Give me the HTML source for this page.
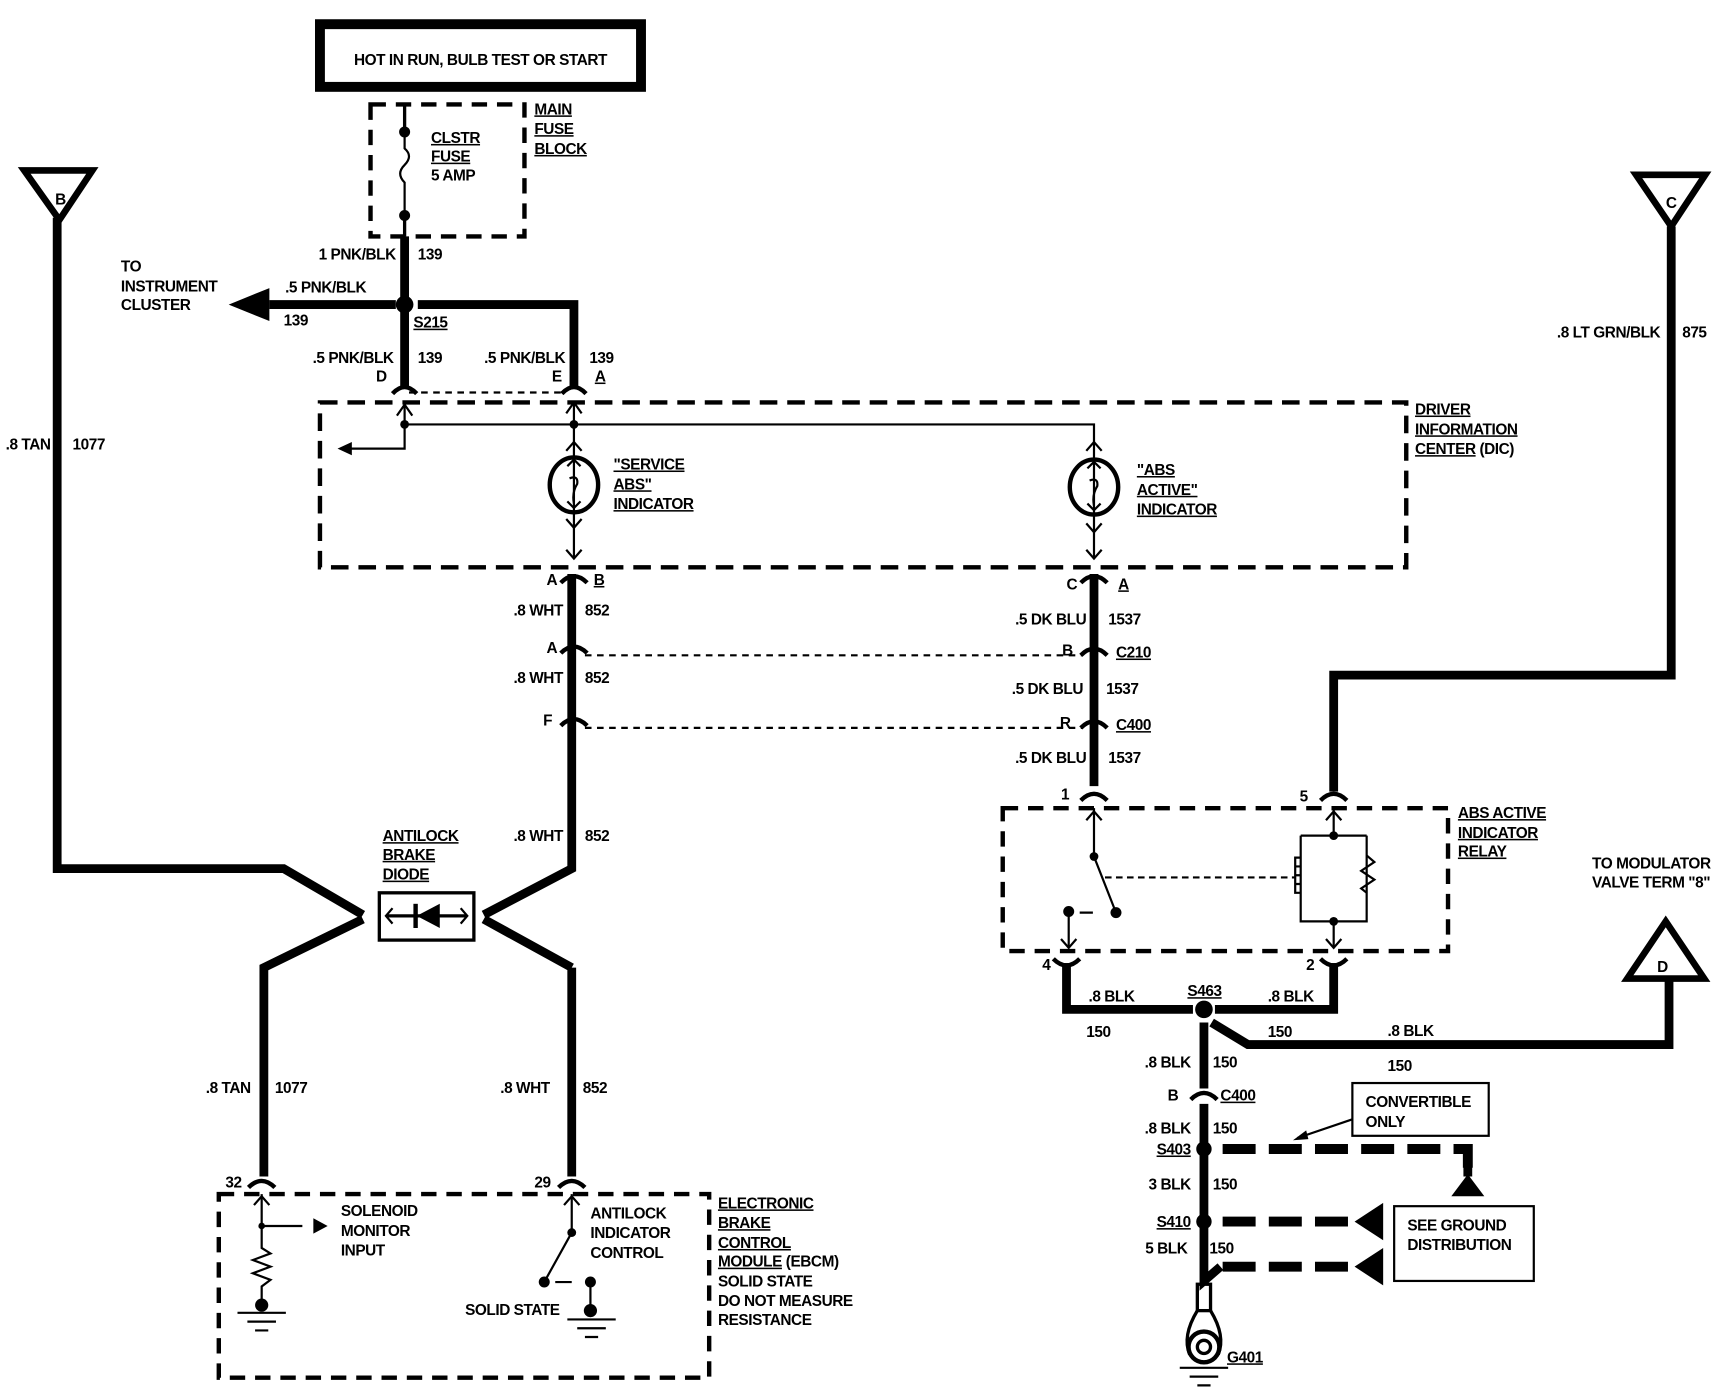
<!DOCTYPE html>
<html><head><meta charset="utf-8"><style>
html,body{margin:0;padding:0;background:#fff;}
svg{display:block}
text{font-family:"Liberation Sans",sans-serif;font-weight:bold;font-size:14px;fill:#000;letter-spacing:-0.4px}
.u{text-decoration:underline}
</style></head><body>
<svg width="1724" height="1392" viewBox="0 0 1568 1266" preserveAspectRatio="none" xmlns="http://www.w3.org/2000/svg">
<g fill="none" stroke="#000" stroke-linecap="butt">
<rect x="291" y="22" width="292" height="57" stroke-width="9"/>
<rect x="337" y="95" width="140" height="120" stroke-width="4" stroke-dasharray="14,9"/>
<path d="M368 95V120 M368 196V215" stroke-width="3"/>
<path d="M368 120V135 Q376 142 368 150 Q360 158 368 166 V196" stroke-width="2"/>
<path d="M368 215V352 M245 277H360 M380 277H522V352" stroke-width="8"/>
<path d="M372 357H515" stroke-width="2" stroke-dasharray="6,5"/>
<path d="M357 358Q368 346 379 358 M511 358Q522 346 533 358" stroke-width="4"/>
<rect x="291" y="366" width="988" height="150" stroke-width="4" stroke-dasharray="16,9"/>
<path d="M368 366V408H312 M368 386H995V404 M522 366V508 M995 404V508" stroke-width="2"/>
<path d="M361 378L368 368L375 378 M515 376L522 366L529 376 M515 410L522 402L529 410 M515 472L522 480L529 472 M515 500L522 508L529 500 M988 410L995 402L1002 410 M988 476L995 484L1002 476 M988 500L995 508L1002 500" stroke-width="2"/>
<ellipse cx="522" cy="441" rx="22" ry="25" stroke-width="4"/>
<ellipse cx="995" cy="443" rx="22" ry="25" stroke-width="4"/>
<path d="M518 435Q526 432 525 440Q520 448 522 458 M991 437Q999 434 998 442Q993 450 995 460" stroke-width="2"/>
<path d="M516 424L522 418L528 424 M516 456L522 462L528 456 M989 426L995 420L1001 426 M989 458L995 464L1001 458" stroke-width="2"/>
<path d="M520 522V790L440 832 M520 880L440 836 M520 880V1070" stroke-width="8"/>
<path d="M510 530Q522 518 534 530" stroke-width="4"/>
<path d="M510 594Q522 582 534 594 M510 660Q522 648 534 660" stroke-width="4"/>
<path d="M532 596H985 M532 662H985" stroke-width="2" stroke-dasharray="6,5"/>
<path d="M52 198V790H258L330 832 M330 836L240 880V1070" stroke-width="8"/>
<path d="M22 155H84L54 200Z" stroke-width="6"/>
<rect x="345" y="812" width="86" height="43" stroke-width="3"/>
<path d="M352 833H424" stroke-width="3"/>
<path d="M357 826L351 833L357 840 M419 826L425 833L419 840" stroke-width="2"/>
<rect x="199" y="1086" width="446" height="167" stroke-width="4" stroke-dasharray="14,9"/>
<path d="M226 1080Q238 1068 250 1080 M508 1080Q520 1068 532 1080" stroke-width="4"/>
<path d="M238 1086V1135 L246 1140 L230 1146 L246 1152 L230 1158 L246 1164 L238 1170 V1185 M238 1115H275 M520 1086V1121L495 1166 M537 1166V1190 M505 1166H520" stroke-width="2"/>
<path d="M231 1096L238 1088L245 1096 M513 1096L520 1088L527 1096" stroke-width="2"/>
<path d="M216 1194H260 M225 1202H251 M232 1210H244 M516 1200H560 M525 1208H551 M532 1216H544" stroke-width="2"/>
<path d="M995 522V715" stroke-width="8"/>
<path d="M983 530Q995 518 1007 530 M983 596Q995 584 1007 596 M983 662Q995 650 1007 662 M983 728Q995 716 1007 728" stroke-width="4"/>
<path d="M1488 159H1551L1520 206Z" stroke-width="6"/>
<path d="M1520 206V614H1213V720" stroke-width="8"/>
<path d="M1201 728Q1213 716 1225 728" stroke-width="4"/>
<rect x="912" y="735" width="405" height="130" stroke-width="4" stroke-dasharray="14,9"/>
<path d="M995 735V779L1015 830 M972 829V862 M1213 735V760 M1183 760H1243 M1183 760V838H1243V760 M1213 838V862 M982 830H994" stroke-width="2"/>
<path d="M1005 798H1178" stroke-width="2" stroke-dasharray="6,4"/>
<path d="M988 746L995 738L1002 746 M965 854L972 862L979 854 M1206 746L1213 738L1220 746 M1206 854L1213 862L1220 854" stroke-width="2"/>
<path d="M1183 780h-5v8h5 M1183 788h-5v8h5 M1183 796h-5v8h5 M1183 804h-5v8h5 M1243 778L1250 784L1238 792L1250 800L1238 808L1243 812" stroke-width="2"/>
<path d="M958 872Q970 884 982 872 M1201 872Q1213 884 1225 872" stroke-width="4"/>
<path d="M970 876V918H1085 M1105 918H1213V876 M1095 930V990 M1102 930L1135 950H1518V890 M1095 1004V1165 L1110 1152" stroke-width="8"/>
<path d="M1083 1000Q1095 988 1107 1000" stroke-width="4"/>
<path d="M1112 1045H1335V1070 M1112 1111H1232 M1112 1152H1232" stroke-width="9" stroke-dasharray="30,12"/>
<path d="M1335 1045V1070" stroke-width="8"/>
<path d="M1515 838L1550 890H1480Z" stroke-width="6"/>
<rect x="1230" y="985" width="124" height="48" stroke-width="2"/>
<rect x="1268" y="1097" width="127" height="68" stroke-width="2"/>
<path d="M1230 1018L1180 1035" stroke-width="2"/>
<rect x="1089" y="1168" width="12" height="24" stroke-width="3"/>
<path d="M1089 1192Q1075 1215 1082 1232 M1101 1192Q1115 1215 1108 1232" stroke-width="3"/>
<circle cx="1095" cy="1225" r="14" stroke-width="4"/>
<circle cx="1095" cy="1225" r="6" stroke-width="3"/>
<path d="M1073 1244H1117 M1082 1252H1108 M1089 1260H1101" stroke-width="2"/>
</g>
<g fill="#000">
<circle cx="368" cy="120" r="5"/><circle cx="368" cy="196" r="5"/><circle cx="368" cy="277" r="8"/>
<path d="M208 277L245 262V292Z"/>
<path d="M307 408L320 402V414Z"/>
<circle cx="368" cy="386" r="4"/><circle cx="522" cy="386" r="4"/>
<path d="M379 833L400 822V844Z"/><rect x="376" y="822" width="4" height="22"/>
<path d="M298 1115L285 1108V1122Z"/>
<path d="M1176 1037L1188 1028L1190 1036Z"/>
<circle cx="238" cy="1115" r="3"/><circle cx="238" cy="1187" r="6"/>
<circle cx="520" cy="1121" r="4"/><circle cx="495" cy="1166" r="5"/><circle cx="537" cy="1166" r="5"/><circle cx="537" cy="1192" r="6"/>
<circle cx="995" cy="779" r="4"/><circle cx="1015" cy="830" r="5"/><circle cx="972" cy="829" r="5"/>
<circle cx="1213" cy="760" r="4"/><circle cx="1213" cy="838" r="4"/>
<circle cx="1095" cy="918" r="8"/><circle cx="1095" cy="1045" r="7"/><circle cx="1095" cy="1111" r="7"/>
<path d="M1335 1068L1350 1088H1320Z"/>
<path d="M1232 1111L1258 1094V1128Z"/><path d="M1232 1152L1258 1135V1169Z"/>
</g>
<text x="437" y="59" text-anchor="middle" font-size="14">HOT IN RUN, BULB TEST OR START</text>
<text x="392" y="130" class="u">CLSTR</text><text x="392" y="147" class="u">FUSE</text><text x="392" y="164">5 AMP</text>
<text x="486" y="104" class="u">MAIN</text><text x="486" y="122" class="u">FUSE</text><text x="486" y="140" class="u">BLOCK</text>
<text x="360" y="236" text-anchor="end">1 PNK/BLK</text><text x="380" y="236">139</text>
<text x="110" y="247">TO</text><text x="110" y="265">INSTRUMENT</text><text x="110" y="282">CLUSTER</text>
<text x="333" y="266" text-anchor="end">.5 PNK/BLK</text><text x="258" y="296">139</text>
<text x="376" y="298" class="u">S215</text>
<text x="358" y="330" text-anchor="end">.5 PNK/BLK</text><text x="380" y="330">139</text>
<text x="514" y="330" text-anchor="end">.5 PNK/BLK</text><text x="536" y="330">139</text>
<text x="342" y="347">D</text><text x="502" y="347">E</text><text x="541" y="347" class="u">A</text>
<text x="1287" y="377" class="u">DRIVER</text><text x="1287" y="395" class="u">INFORMATION</text><text x="1287" y="413"><tspan class="u">CENTER</tspan> (DIC)</text>
<text x="558" y="427" class="u">"SERVICE</text><text x="558" y="445" class="u">ABS"</text><text x="558" y="463" class="u">INDICATOR</text>
<text x="1034" y="432" class="u">"ABS</text><text x="1034" y="450" class="u">ACTIVE"</text><text x="1034" y="468" class="u">INDICATOR</text>
<text x="497" y="532">A</text><text x="540" y="532" class="u">B</text>
<text x="970" y="536">C</text><text x="1017" y="536" class="u">A</text>
<text x="512" y="560" text-anchor="end">.8 WHT</text><text x="532" y="560">852</text>
<text x="497" y="594">A</text>
<text x="512" y="621" text-anchor="end">.8 WHT</text><text x="532" y="621">852</text>
<text x="494" y="660">F</text>
<text x="512" y="765" text-anchor="end">.8 WHT</text><text x="532" y="765">852</text>
<text x="46" y="409" text-anchor="end">.8 TAN</text><text x="66" y="409">1077</text>
<text x="348" y="765" class="u">ANTILOCK</text><text x="348" y="782" class="u">BRAKE</text><text x="348" y="800" class="u">DIODE</text>
<text x="228" y="994" text-anchor="end">.8 TAN</text><text x="250" y="994">1077</text>
<text x="500" y="994" text-anchor="end">.8 WHT</text><text x="530" y="994">852</text>
<text x="205" y="1080">32</text><text x="486" y="1080">29</text>
<text x="310" y="1106">SOLENOID</text><text x="310" y="1124">MONITOR</text><text x="310" y="1142">INPUT</text>
<text x="537" y="1108">ANTILOCK</text><text x="537" y="1126">INDICATOR</text><text x="537" y="1144">CONTROL</text>
<text x="423" y="1196">SOLID STATE</text>
<text x="653" y="1099" class="u">ELECTRONIC</text><text x="653" y="1117" class="u">BRAKE</text><text x="653" y="1135" class="u">CONTROL</text><text x="653" y="1152"><tspan class="u">MODULE</tspan> (EBCM)</text><text x="653" y="1170">SOLID STATE</text><text x="653" y="1188">DO NOT MEASURE</text><text x="653" y="1205">RESISTANCE</text>
<text x="988" y="568" text-anchor="end">.5 DK BLU</text><text x="1008" y="568">1537</text>
<text x="966" y="596">B</text><text x="1015" y="598" class="u">C210</text>
<text x="985" y="631" text-anchor="end">.5 DK BLU</text><text x="1006" y="631">1537</text>
<text x="964" y="662">R</text><text x="1015" y="664" class="u">C400</text>
<text x="988" y="694" text-anchor="end">.5 DK BLU</text><text x="1008" y="694">1537</text>
<text x="1510" y="307" text-anchor="end">.8 LT GRN/BLK</text><text x="1530" y="307">875</text>
<text x="965" y="727">1</text><text x="1182" y="729">5</text>
<text x="1326" y="744" class="u">ABS ACTIVE</text><text x="1326" y="762" class="u">INDICATOR</text><text x="1326" y="779" class="u">RELAY</text>
<text x="1448" y="790">TO MODULATOR</text><text x="1448" y="807">VALVE TERM "8"</text>
<text x="1512" y="884" font-size="22" text-anchor="middle">D</text>
<text x="55" y="186" font-size="18" text-anchor="middle">B</text>
<text x="1520" y="189" font-size="18" text-anchor="middle">C</text>
<text x="948" y="882">4</text><text x="1188" y="882">2</text>
<text x="990" y="911">.8 BLK</text><text x="1153" y="911">.8 BLK</text><text x="1080" y="906" class="u">S463</text>
<text x="988" y="943">150</text><text x="1153" y="943">150</text>
<text x="1262" y="942">.8 BLK</text><text x="1262" y="974">150</text>
<text x="1083" y="971" text-anchor="end">.8 BLK</text><text x="1103" y="971">150</text>
<text x="1062" y="1001">B</text><text x="1110" y="1001" class="u">C400</text>
<text x="1083" y="1031" text-anchor="end">.8 BLK</text><text x="1103" y="1031">150</text>
<text x="1083" y="1050" text-anchor="end" class="u">S403</text>
<text x="1242" y="1007">CONVERTIBLE</text><text x="1242" y="1025">ONLY</text>
<text x="1083" y="1082" text-anchor="end">3 BLK</text><text x="1103" y="1082">150</text>
<text x="1083" y="1116" text-anchor="end" class="u">S410</text>
<text x="1280" y="1119">SEE GROUND</text><text x="1280" y="1137">DISTRIBUTION</text>
<text x="1080" y="1140" text-anchor="end">5 BLK</text><text x="1100" y="1140">150</text>
<text x="1116" y="1239" class="u">G401</text>
</svg>
</body></html>
